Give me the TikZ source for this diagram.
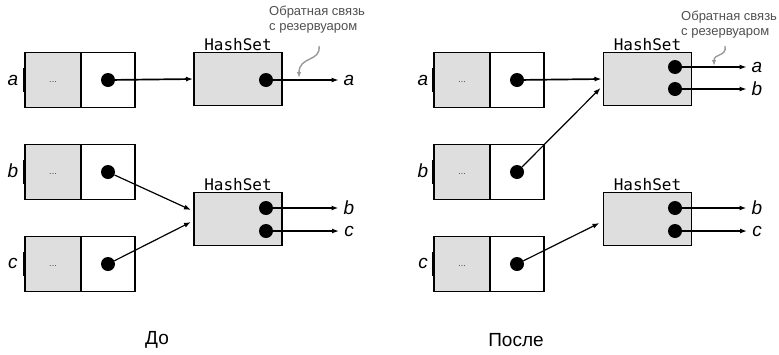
\documentclass[tikz,border=0pt]{standalone}
\usepackage{fontspec}
\setmainfont{Liberation Sans}
\newfontfamily\hashfont{DejaVu Sans Mono}
\usepackage{xcolor}
\usepackage{tikz}
\usetikzlibrary{arrows.meta,positioning}
\definecolor{cellgray}{HTML}{DEDEDE}
\definecolor{notegray}{HTML}{505050}
\definecolor{curvegray}{HTML}{999999}
\tikzset{
  keycell/.style={
    rectangle,
    draw=black,
    line width=1.8pt,
    fill=cellgray,
    minimum width=56pt,
    minimum height=55pt,
    inner sep=0pt,
    outer sep=0pt,
    font=\fontsize{9}{10}\selectfont,
    text=black!75
  },
  refcell/.style={
    rectangle,
    draw=black,
    line width=1.8pt,
    fill=white,
    minimum width=54pt,
    minimum height=55pt,
    inner sep=0pt,
    outer sep=0pt
  },
  arrow/.style={
    -{Latex[length=7pt,width=5pt]},
    line width=1.7pt
  }
}

\begin{document}
\begin{tikzpicture}[
  x=1pt, y=-1pt,
  set_block/.style={rectangle, draw=black, line width=1.8pt, fill=cellgray, minimum width=88pt, minimum height=53pt, inner sep=0pt, outer sep=0pt},
  set_label/.style={font=\hashfont\fontsize{16}{18}\selectfont, inner sep=1pt},
  dot/.style={circle, fill=black, minimum size=14pt, inner sep=0pt},
  var_label/.style={font=\itshape\fontsize{19}{22}\selectfont, inner sep=1pt},
  note/.style={font=\fontsize{13}{15}\selectfont, text=notegray, inner sep=0pt, anchor=west},
  caption/.style={font=\fontsize{19}{22}\selectfont},
  edge_mark/.style={line width=3pt},
  thin_arrow/.style={-{Latex[length=7pt,width=5pt]}, line width=1.2pt},
  note_arrow/.style={-{Latex[length=6pt,width=4.5pt]}, line width=1.4pt, draw=curvegray}
]
\useasboundingbox (0,0) rectangle (779,354);

% Before: entries
\node[keycell] (ka) at (53,80) {\raisebox{-4pt}{...}};
\node[refcell, right=0pt of ka] (ra) {};
\node[keycell] (kb) at (53,172) {\raisebox{-4pt}{...}};
\node[refcell, right=0pt of kb] (rb) {};
\node[keycell] (kc) at (53,264) {\raisebox{-4pt}{...}};
\node[refcell, right=0pt of kc] (rc) {};

\node[dot] (pa) at (ra.center) {};
\node[dot] (pb) at (rb.center) {};
\node[dot] (pc) at (rc.center) {};

\node[var_label] (la) at (13,80) {a};
\node[var_label] (lb) at (13,171) {b};
\node[var_label] (lc) at (13,263) {c};

\draw[edge_mark] ([xshift=-1pt,yshift=12pt]ka.west) -- ([xshift=-1pt,yshift=-12pt]ka.west);
\draw[edge_mark] ([xshift=-1pt,yshift=12pt]kb.west) -- ([xshift=-1pt,yshift=-12pt]kb.west);
\draw[edge_mark] ([xshift=-1pt,yshift=12pt]kc.west) -- ([xshift=-1pt,yshift=-12pt]kc.west);

% Before: hash sets
\node[set_block] (hs1) at (238,79) {};
\node[set_label, above=1pt of hs1] (t1) {HashSet};
\node[dot] (q1) at (266,80) {};
\node[var_label] (oa) at (349,80) {a};

\node[set_block] (hs2) at (238,219) {};
\node[set_label, above=1pt of hs2] (t2) {HashSet};
\node[dot] (q2) at (266,208) {};
\node[dot] (q3) at (266,231) {};
\node[var_label] (ob) at (349,208) {b};
\node[var_label] (oc) at (349,231) {c};

% Before: note
\node[note] (fb1a) at (269,12) {Обратная связь};
\node[note] (fb1b) at (269,28) {с резервуаром};
\coordinate (fb1s) at (319,46);
\coordinate (fb1e) at (299,78);
\draw[note_arrow] (fb1s) .. controls (321,62) and (299,56) .. (fb1e);

% Before: connections
\draw[arrow] (pa) -- ([xshift=-1pt]hs1.west);
\draw[thin_arrow] (pb) -- ([xshift=-3pt,yshift=9pt]hs2.west);
\draw[thin_arrow] (pc) -- ([xshift=-3pt,yshift=-3pt]hs2.west);
\draw[thin_arrow, shorten >=4pt] (q1) -- (oa.west);
\draw[arrow, shorten >=4pt] (q2) -- (ob.west);
\draw[arrow, shorten >=4pt] (q3) -- (oc.west);

% After: entries
\node[keycell] (ka2) at (462,80) {\raisebox{-4pt}{...}};
\node[refcell, right=0pt of ka2] (ra2) {};
\node[keycell] (kb2) at (462,172) {\raisebox{-4pt}{...}};
\node[refcell, right=0pt of kb2] (rb2) {};
\node[keycell] (kc2) at (462,264) {\raisebox{-4pt}{...}};
\node[refcell, right=0pt of kc2] (rc2) {};

\node[dot] (pa2) at (ra2.center) {};
\node[dot] (pb2) at (rb2.center) {};
\node[dot] (pc2) at (rc2.center) {};

\node[var_label] (la2) at (423,80) {a};
\node[var_label] (lb2) at (423,171) {b};
\node[var_label] (lc2) at (423,263) {c};

\draw[edge_mark] ([xshift=-1pt,yshift=12pt]ka2.west) -- ([xshift=-1pt,yshift=-12pt]ka2.west);
\draw[edge_mark] ([xshift=-1pt,yshift=12pt]kb2.west) -- ([xshift=-1pt,yshift=-12pt]kb2.west);
\draw[edge_mark] ([xshift=-1pt,yshift=12pt]kc2.west) -- ([xshift=-1pt,yshift=-12pt]kc2.west);

% After: hash sets
\node[set_block] (hs3) at (647.5,79) {};
\node[set_label, above=1pt of hs3] (t3) {HashSet};
\node[dot] (q4) at (675,67) {};
\node[dot] (q5) at (675,89) {};
\node[var_label] (oa2) at (757,67) {a};
\node[var_label] (ob2) at (757,89) {b};

\node[set_block] (hs4) at (647.5,219) {};
\node[set_label, above=1pt of hs4] (t4) {HashSet};
\node[dot] (q6) at (675,208) {};
\node[dot] (q7) at (675,231) {};
\node[var_label] (ob3) at (757,208) {b};
\node[var_label] (oc3) at (757,231) {c};

% After: note
\node[note] (fb2a) at (681,17) {Обратная связь};
\node[note] (fb2b) at (681,33) {с резервуаром};
\coordinate (fb2s) at (725,46);
\coordinate (fb2e) at (714,66);
\draw[note_arrow] (fb2s) .. controls (727,57) and (714,53) .. (fb2e);

% After: connections
\draw[arrow] (pa2) -- ([xshift=-2pt]hs3.west);
\draw[thin_arrow] (pb2) -- ([xshift=-3pt,yshift=-9pt]hs3.west);
\draw[thin_arrow] (pc2) -- ([xshift=-4pt,yshift=-4pt]hs4.west);
\draw[thin_arrow, shorten >=4pt] (q4) -- (oa2.west);
\draw[thin_arrow, shorten >=4pt] (q5) -- (ob2.west);
\draw[arrow, shorten >=4pt] (q6) -- (ob3.west);
\draw[arrow, shorten >=4pt] (q7) -- (oc3.west);

% Captions
\node[caption] (before) at (157,340) {До};
\node[caption] (after) at (516,340) {После};

\end{tikzpicture}
\end{document}
